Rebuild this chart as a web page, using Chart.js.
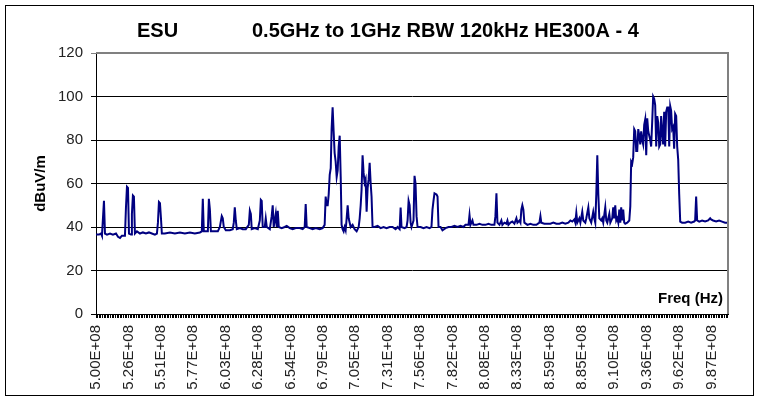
<!DOCTYPE html>
<html lang="en">
<head>
<meta charset="UTF-8">
<title>ESU 0.5GHz to 1GHz RBW 120kHz HE300A - 4</title>
<style>
    body {
        margin: 0;
        background: #fff;
    }
    .wrap {
        width: 763px;
        height: 407px;
    }
</style>
</head>
<body>

<div class="wrap"><canvas id="chart" width="763" height="407"></canvas></div>

<script src="https://cdn.jsdelivr.net/npm/chart.js"></script>
<script>
    // title pieces (left block and right block)
    const titleParts = ['ESU', '0.5GHz to 1GHz RBW 120kHz HE300A - 4'];

    // x axis labels, one every 25.63 MHz starting at 500 MHz
    const tickLabels = ['5.00E+08', '5.26E+08', '5.51E+08', '5.77E+08', '6.03E+08',
                        '6.28E+08', '6.54E+08', '6.79E+08', '7.05E+08', '7.31E+08',
                        '7.56E+08', '7.82E+08', '8.08E+08', '8.33E+08', '8.59E+08',
                        '8.85E+08', '9.10E+08', '9.36E+08', '9.62E+08', '9.87E+08'];
    const tickStartMHz = 500;
    const tickStepMHz = 25.63;

    const freqMHz = [
        500.0, 502.4, 504.0, 504.7, 505.5, 506.3, 507.1, 508.7, 511.1, 513.4,
        515.8, 517.4, 519.0, 520.5, 522.9, 523.7, 524.5, 525.3, 526.1, 527.7,
        528.4, 529.2, 530.0, 530.8, 532.4, 534.8, 537.1, 539.5, 541.9, 544.2,
        546.6, 548.2, 549.0, 549.8, 550.6, 551.4, 552.1, 554.5, 558.5, 562.4,
        566.4, 570.3, 574.3, 578.2, 582.2, 583.7, 584.5, 585.3, 586.9, 588.5,
        589.3, 590.1, 590.9, 594.0, 596.4, 598.0, 599.5, 600.3, 601.1, 602.7,
        605.9, 608.2, 609.0, 609.8, 610.6, 611.4, 613.8, 616.1, 618.5, 620.9,
        621.7, 622.5, 623.2, 625.6, 628.0, 629.6, 630.4, 631.1, 631.9, 633.5,
        634.3, 635.1, 637.5, 639.0, 639.8, 640.6, 642.2, 643.0, 643.8, 644.6,
        646.9, 649.3, 650.9, 653.3, 655.6, 658.0, 661.2, 663.5, 665.1, 665.9,
        666.7, 669.1, 671.4, 673.8, 677.0, 679.3, 680.9, 681.7, 682.5, 683.3,
        684.1, 684.9, 685.7, 686.4, 687.2, 688.0, 688.8, 689.6, 690.4, 691.2,
        692.0, 692.8, 693.6, 694.3, 695.1, 695.9, 696.7, 697.5, 698.3, 699.1,
        699.9, 700.7, 701.5, 703.0, 704.6, 706.2, 707.8, 708.6, 709.4, 710.1,
        710.9, 711.7, 712.5, 713.3, 714.1, 714.9, 715.7, 716.5, 717.3, 718.0,
        718.8, 720.4, 722.8, 725.2, 727.5, 729.9, 732.3, 734.6, 737.0, 738.6,
        740.2, 741.0, 741.7, 744.1, 745.7, 746.5, 747.3, 748.1, 748.9, 749.6,
        751.2, 752.0, 752.8, 753.6, 754.4, 756.8, 759.1, 761.5, 763.9, 765.4,
        766.2, 767.0, 767.8, 769.4, 770.2, 771.0, 772.6, 774.1, 776.5, 778.9,
        781.2, 783.6, 786.0, 788.4, 790.7, 792.3, 794.7, 795.5, 796.3, 797.8,
        798.6, 801.0, 803.4, 805.7, 808.1, 810.5, 812.8, 815.2, 816.0, 816.8,
        817.6, 819.2, 820.7, 821.5, 823.1, 824.7, 825.5, 826.3, 827.9, 829.4,
        831.0, 832.6, 833.4, 835.0, 835.8, 836.5, 837.3, 838.1, 838.9, 841.3,
        843.7, 846.0, 848.4, 850.8, 851.6, 852.3, 854.7, 857.1, 859.5, 861.8,
        864.2, 866.6, 868.9, 871.3, 873.7, 875.3, 876.8, 878.4, 879.2, 880.0,
        880.8, 882.4, 883.2, 884.7, 885.5, 887.1, 887.9, 889.5, 890.3, 891.8,
        893.4, 894.2, 895.0, 895.8, 896.6, 897.4, 898.2, 899.7, 900.5, 901.3,
        902.9, 903.7, 904.5, 906.1, 906.9, 908.4, 909.2, 910.0, 910.8, 911.6,
        912.4, 913.2, 914.0, 914.8, 915.5, 916.3, 917.1, 917.9, 918.7, 920.3,
        921.9, 922.7, 923.4, 924.2, 925.0, 925.8, 926.6, 927.4, 928.2, 929.0,
        929.8, 930.6, 931.3, 932.1, 932.9, 933.7, 934.5, 935.3, 936.1, 936.9,
        937.7, 938.5, 939.2, 940.0, 940.8, 941.6, 942.4, 943.2, 944.0, 944.8,
        945.6, 946.4, 947.1, 947.9, 948.7, 949.5, 950.3, 951.1, 951.9, 952.7,
        953.5, 954.3, 955.0, 955.8, 956.6, 957.4, 958.2, 959.0, 959.8, 960.6,
        961.4, 962.2, 963.7, 966.1, 968.5, 970.8, 973.2, 974.0, 974.8, 975.6,
        977.2, 979.5, 981.9, 984.3, 985.9, 986.6, 988.2, 990.6, 993.0, 995.3,
        997.7, 999.3
    ];
    const levelDb = [
        36.5, 36.5, 37, 36, 44, 52, 37, 36.5, 37, 36.5,
        37, 35.5, 35, 36, 36, 49, 58.5, 58, 37, 36.5,
        46, 54.5, 54, 37, 38, 37, 37.5, 37, 37.5, 37,
        36.5, 37, 42, 51.5, 51, 44, 37, 37, 37.5, 37,
        37.5, 37, 37.5, 37, 37.5, 38, 53, 38, 38, 38,
        53, 48, 38, 38, 38, 40, 45, 44, 40, 38.5,
        38.5, 39, 42, 49, 43, 39, 39.5, 39, 39, 41,
        47.5, 46, 39, 39.5, 39, 43, 52.5, 52, 40, 40,
        44, 40, 39, 45, 50, 40, 46, 40, 47.5, 40,
        39.5, 40, 40.5, 39.5, 39, 39.5, 39.5, 39, 40, 50.5,
        40, 39.5, 39, 39.5, 39, 39.5, 41, 54, 50, 50,
        55, 64, 67, 85, 95, 84, 74, 70, 63, 66,
        77, 82, 63, 41, 39, 38, 40, 38.5, 44, 50,
        44, 42, 40, 41, 39, 38, 40, 44, 50, 57,
        73, 65, 60.5, 62, 47, 58, 62, 69.5, 60, 54,
        40, 40, 40.5, 39.5, 40, 39.5, 40, 40, 39, 40,
        39, 49, 40, 39.5, 40, 43, 52, 50, 42, 40,
        43, 63.5, 60, 45, 40, 40, 39.5, 40, 39.5, 40,
        48, 52, 55.5, 55, 54, 40, 40, 38.5, 39.5, 40,
        40, 40.5, 40, 40.5, 40, 41, 41, 45.5, 41, 43,
        41, 41, 41.5, 41, 41, 41.5, 41, 41, 45, 55.5,
        42, 41, 43, 41, 42, 41.5, 43, 41, 42, 42.5,
        41.5, 44, 42, 43, 42, 48, 50, 48, 42, 41,
        41.5, 41, 41, 42, 45, 42, 41.5, 41.5, 41.5, 42,
        41.5, 41.5, 42, 41.5, 42, 43, 42.5, 43.5, 42, 46.5,
        42, 44, 42, 47, 43, 42, 44, 49, 44, 42,
        47, 44, 42, 55, 73, 55, 44, 43, 44, 42,
        49, 43, 42, 46, 42, 44, 49, 44, 50, 43,
        44, 42, 48, 42, 49, 43, 48, 42, 41.5, 42,
        43, 49.5, 70, 69, 72, 85, 84, 75, 75, 85,
        82, 78, 84, 80, 78, 87, 89.5, 73, 90, 84,
        82, 80, 77, 88, 100, 99, 96, 77, 91, 88,
        77, 78, 91, 84, 78, 93, 77, 93, 95, 95,
        77, 95.5, 93.5, 85, 86, 76, 92, 91, 77, 71,
        55, 42.5, 42, 42, 42.5, 42, 42.5, 43, 54, 43,
        42.5, 43, 42.5, 43, 44, 43.5, 43, 42.5, 43, 42.5,
        42, 42
    ];

    const FONT = 'Arial, "Liberation Sans", sans-serif';

    // small ticks: 20 per labelled interval, like the Excel category ticks
    function buildDenseTicks(scale) {
        let ticks = [];
        for (let k = 0; tickStartMHz + k * tickStepMHz / 20 <= 1000; k++) {
            ticks.push({ value: tickStartMHz + k * tickStepMHz / 20 });
        }
        scale.ticks = ticks;
    }

    // gray plot frame, outer border, title and the "Freq (Hz)" caption
    const decorations = {
        id: 'decorations',
        afterDraw(chart) {
            const ctx = chart.ctx;
            const a = chart.chartArea;
            ctx.save();
            ctx.strokeStyle = '#808080';
            ctx.lineWidth = 2;
            ctx.beginPath();
            ctx.moveTo(a.left, a.top);
            ctx.lineTo(a.right, a.top);
            ctx.lineTo(a.right, a.bottom);
            ctx.stroke();

            ctx.strokeStyle = '#000';
            ctx.lineWidth = 1;
            ctx.strokeRect(5.5, 5.5, 748, 390);

            ctx.fillStyle = '#000';
            ctx.textAlign = 'left';
            ctx.textBaseline = 'alphabetic';
            ctx.font = 'bold 20px ' + FONT;
            ctx.fillText(titleParts[0], 137, 37);
            ctx.fillText(titleParts[1], 252, 37);

            ctx.textAlign = 'right';
            ctx.font = 'bold 15px ' + FONT;
            ctx.fillText('Freq (Hz)', a.right - 5, a.bottom - 11);
            ctx.restore();
        }
    };

    const ctx = document.getElementById('chart').getContext('2d');
    new Chart(ctx, {
        type: 'line',
        data: {
            datasets: [{
                data: freqMHz.map((f, i) => ({ x: f, y: levelDb[i] })),
                borderColor: '#000080',
                borderWidth: 2,
                pointRadius: 0,
                tension: 0,
                fill: false
            }]
        },
        options: {
            responsive: false,
            animation: false,
            layout: { padding: { top: 53, left: 5, right: 35, bottom: 10 } },
            plugins: {
                legend: { display: false },
                tooltip: { enabled: false }
            },
            scales: {
                x: {
                    type: 'linear',
                    min: 500,
                    max: 1000,
                    afterBuildTicks: buildDenseTicks,
                    afterFit: s => { s.height = 83; },
                    ticks: {
                        autoSkip: false,
                        minRotation: 90,
                        maxRotation: 90,
                        padding: 7,
                        color: '#222',
                        font: { family: FONT, size: 15 },
                        callback: (v, i) => (i % 20 === 0 ? tickLabels[i / 20] : '')
                    },
                    grid: { drawOnChartArea: false, tickLength: 4, color: '#000' },
                    border: { color: '#000', width: 1 }
                },
                y: {
                    min: 0,
                    max: 120,
                    afterFit: s => { s.width = 91; },
                    ticks: {
                        stepSize: 20,
                        padding: 8,
                        color: '#222',
                        font: { family: FONT, size: 15 }
                    },
                    grid: {
                        color: c => (c.tick && c.tick.value === 120 ? '#808080' : '#000'),
                        tickLength: 5
                    },
                    border: { color: '#000', width: 1 },
                    title: {
                        display: true,
                        text: 'dBuV/m',
                        color: '#000',
                        font: { family: FONT, size: 15, weight: 'bold' },
                        padding: { top: 27, bottom: 0 }
                    }
                }
            }
        },
        plugins: [decorations]
    });
</script>

</body>
</html>
